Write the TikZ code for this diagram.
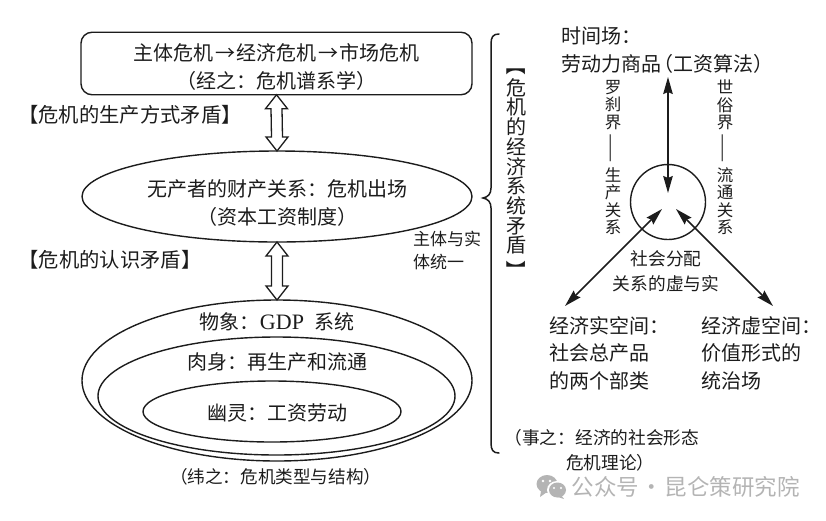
\documentclass[tikz,border=0pt]{standalone}
\usepackage{fontspec}
\setmainfont{Liberation Serif}
\newfontfamily\cjk{Noto Sans CJK SC}
\usetikzlibrary{shapes.geometric,arrows.meta,calc}
\definecolor{ink}{HTML}{1C1C1C}
\definecolor{wm}{HTML}{B4B4B4}
\tikzset{
  lab/.style={inner sep=0pt,outer sep=0pt,text=ink},
  t20/.style={lab,font=\cjk\fontsize{20}{28}\selectfont,align=center},
  t20l/.style={lab,font=\cjk\fontsize{20}{27.5}\selectfont,align=left,anchor=west},
  t17/.style={lab,font=\cjk\fontsize{17.6}{25}\selectfont,align=center},
  t17l/.style={lab,font=\cjk\fontsize{17}{23.5}\selectfont,align=left,anchor=west},
  t16v/.style={lab,font=\cjk\fontsize{16.5}{17.4}\selectfont,align=center},
  t20v/.style={lab,font=\cjk\fontsize{20}{19.7}\selectfont,align=center},
  shp/.style={draw=ink,line width=1.4pt,inner sep=0pt,outer sep=0pt},
  oval/.style={shp,ellipse},
  thin arrow/.style={draw=ink,line width=1.5pt,{Stealth[length=17pt,width=9.5pt,inset=2pt]}-{Stealth[length=17pt,width=9.5pt,inset=2pt]}},
  hollow/.style={draw=ink,line width=1.3pt,fill=white,line join=miter},
}
\newcommand{\hollowarrow}[2]{%
  \draw[hollow] (#1) -- ++(11,14) -- ++(-5.5,0) -- ($(#2)+(5.5,-14)$) -- ++(5.5,0) -- (#2)
    -- ++(-11,-14) -- ++(5.5,0) -- ($(#1)+(-5.5,14)$) -- ++(-5.5,0) -- cycle;}
\begin{document}
\begin{tikzpicture}[x=1pt,y=-1pt]
\useasboundingbox (0,0) rectangle (826,520);
% left column shapes
\node[shp,rounded corners=11pt,minimum width=391pt,minimum height=62.5pt] (box) at (276.5,63.5) {};
\node[oval,minimum width=390pt,minimum height=91pt] (mid) at (277,196.5) {};
\node[oval,minimum width=390pt,minimum height=161pt] (outer) at (277,380.5) {};
\node[oval,minimum width=357pt,minimum height=118pt] (middle) at (276.5,396) {};
\node[oval,minimum width=258pt,minimum height=61pt] (inner) at (272,411.5) {};
\hollowarrow{box.south}{mid.north}
\hollowarrow{mid.south}{outer.north}
% left column texts
\node[t20] (t1) at (276.5,67) {主体危机\makebox[23pt]{→}经济危机\makebox[23pt]{→}市场危机\\（经之：危机谱系学）};
\node[t20] (t2) at (277,203) {无产者的财产关系：危机出场\\（资本工资制度）};
\node[t20,font=\cjk\fontsize{20.3}{24}\selectfont] (l1) at (130,115) {【危机的生产方式矛盾】};
\node[t20,font=\cjk\fontsize{20.3}{24}\selectfont] (l2) at (110,260) {【危机的认识矛盾】};
\node[t17l,anchor=west] (unity) at (413,250.5) {主体与实\\体统一};
\node[t20] (t3) at (277,322) {物象：{\fontsize{22}{24}\selectfont\rmfamily GDP}\hspace{10pt}系统};
\node[t20] (t4) at (277,362) {肉身：再生产和流通};
\node[t20] (t5) at (277,413) {幽灵：工资劳动};
\node[t17] (t6) at (275.6,477) {（纬之：危机类型与结构）};
% brace
\coordinate (bt) at (499,34);
\coordinate (bb) at (499,453);
\coordinate (bm) at (483,198);
\draw[draw=ink,line width=1.5pt,line cap=round] (bt) .. controls (493,34) and (491,37) .. (491,44)
  -- (491,188) .. controls (491,194) and (488,197) .. (bm)
  .. controls (488,199) and (491,202) .. (491,208)
  -- (491,443) .. controls (491,450) and (493,453) .. (bb);
% vertical heading
\node[t20] (vt) at (516,65) {\rotatebox[origin=c]{-90}{【}};
\node[t20v] (vm) at (516,166.5) {危\\机\\的\\经\\济\\系\\统\\矛\\盾};
\node[t20] (vb) at (516,270) {\rotatebox[origin=c]{-90}{】}};
% right column
\node[t20l] (time) at (561,50) {时间场：\\劳动力商品\kern-8pt（工资算法）};
\node[shp,circle,minimum size=75pt] (circ) at (668,202) {};
\coordinate (top) at (668,77);
\coordinate (c1) at (668,193);
\coordinate (c2) at (662,209);
\coordinate (c3) at (676,209);
\coordinate (ll) at (565,306);
\coordinate (rr) at (773,306);
\draw[thin arrow] (top) -- (c1);
\draw[thin arrow] (c2) -- (ll);
\draw[thin arrow] (c3) -- (rr);
\node[t16v] (a1) at (613,105) {罗\\刹\\界};
\node[lab,rotate=90,font=\cjk\fontsize{17}{20}\selectfont] (a2) at (613,148) {——};
\node[t16v] (a3) at (613,201) {生\\产\\关\\系};
\node[t16v] (b1) at (725,105) {世\\俗\\界};
\node[lab,rotate=90,font=\cjk\fontsize{17}{20}\selectfont] (b2) at (725,148) {——};
\node[t16v] (b3) at (725,201) {流\\通\\关\\系};
\node[t17,font=\cjk\fontsize{17.7}{25}\selectfont] (soc) at (666,271.5) {社会分配\\关系的虚与实};
\node[t20l] (sp1) at (549,353) {经济实空间：\\社会总产品\\的两个部类};
\node[t20l] (sp2) at (701,353) {经济虚空间：\\价值形式的\\统治场};
\node[t17l,font=\cjk\fontsize{17.7}{25}\selectfont] (ev) at (504.5,450.5) {（事之：经济的社会形态\\\hspace*{61.5pt}危机理论）};
% watermark
\fill[wm] (547,484) ellipse [x radius=10.5pt,y radius=9pt];
\fill[wm] (541,491) -- (540,497) -- (547,492) -- cycle;
\fill[white] (557,490) ellipse [x radius=10pt,y radius=9pt];
\fill[wm] (557.5,490) ellipse [x radius=8.5pt,y radius=7.5pt];
\fill[wm] (561,495) -- (564,499) -- (555,496) -- cycle;
\fill[white] (543,481) circle (1.4pt) (550,481) circle (1.4pt) (554,488) circle (1.1pt) (561,488) circle (1.1pt);
\node[lab,text=wm,font=\cjk\fontsize{22.5}{26}\selectfont,anchor=west] (wmk) at (571.5,487) {公众号\makebox[25.5pt]{·}昆仑策研究院};
\end{tikzpicture}
\end{document}
